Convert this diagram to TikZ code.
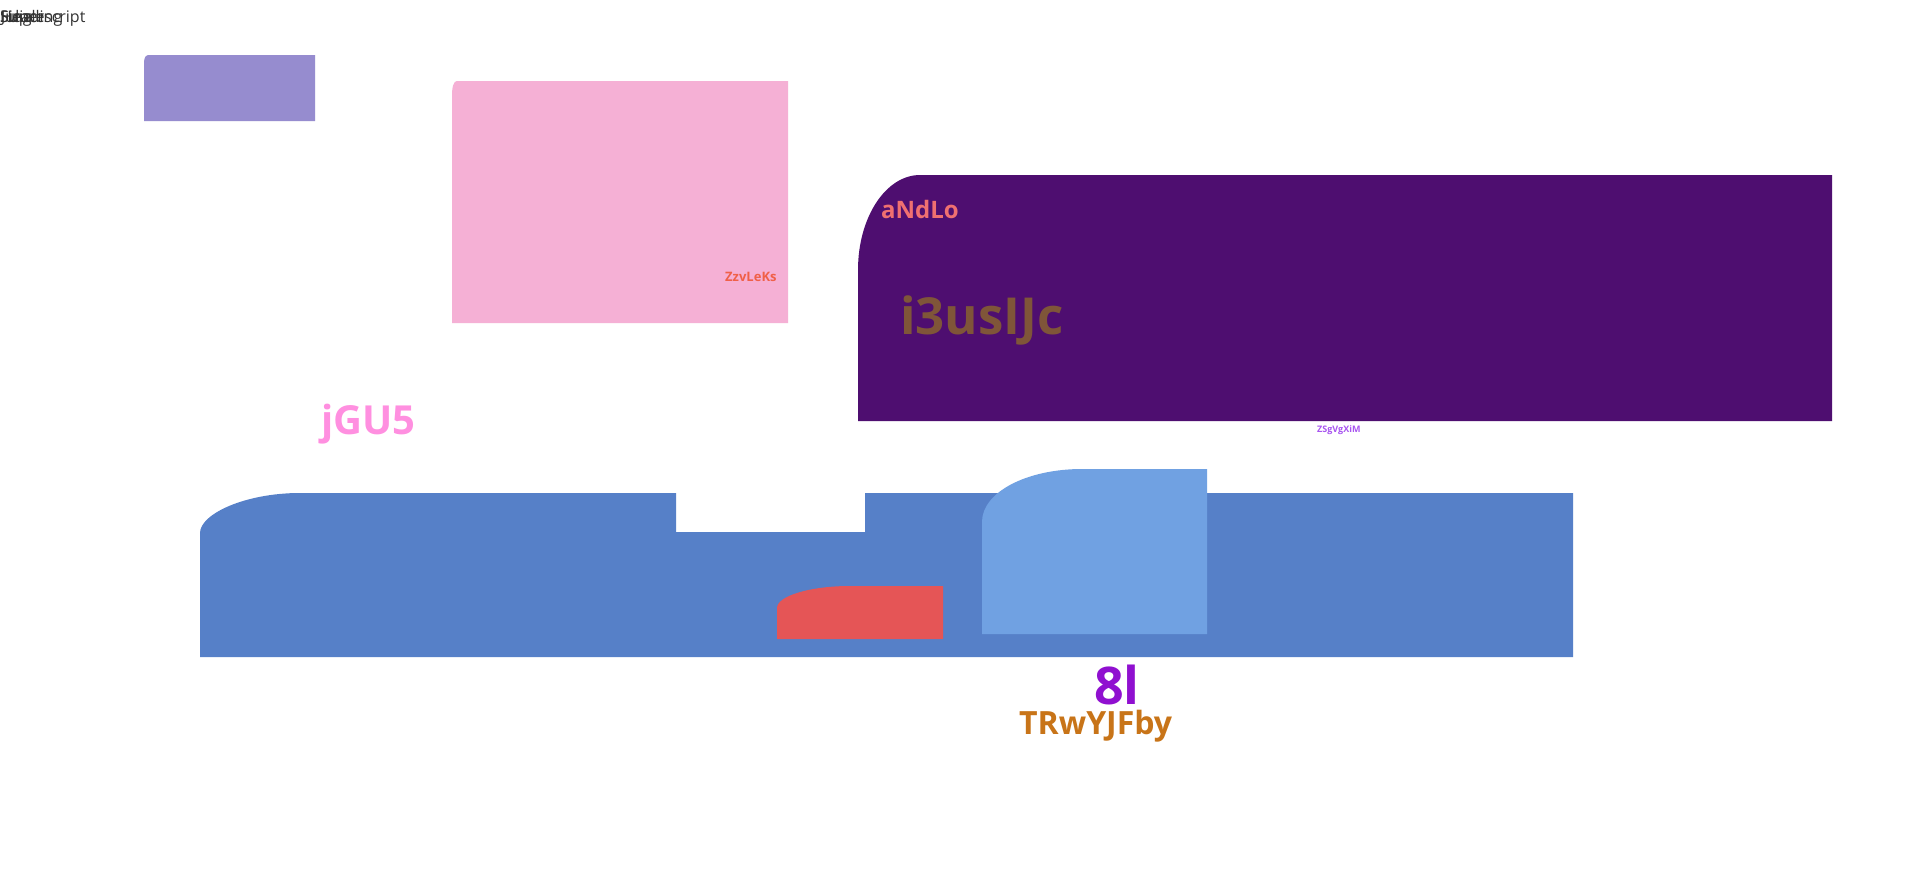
\documentclass[tikz,border=0pt]{standalone}
\usepackage{fontspec}
\setmainfont{Open Sans}
\definecolor{cSmall}{HTML}{968CCF}
\definecolor{cPink}{HTML}{F5B0D5}
\definecolor{cDark}{HTML}{4E0E70}
\definecolor{cSalmon}{HTML}{F07070}
\definecolor{cBrown}{HTML}{7F5539}
\definecolor{cBlue}{HTML}{5680C8}
\definecolor{cLight}{HTML}{70A1E2}
\definecolor{cRed}{HTML}{E55556}
\definecolor{cJ}{HTML}{FF8FE0}
\definecolor{cEight}{HTML}{9010D0}
\definecolor{cOrange}{HTML}{C87418}
\definecolor{cZz}{HTML}{F06048}
\definecolor{cZs}{HTML}{A855F0}
\definecolor{cGray}{HTML}{333333}
\tikzset{
  lbl/.style={inner sep=0pt, anchor=base west, font=\bfseries},
  tiny/.style={inner sep=0pt, anchor=base west, text=cGray}
}
\begin{document}
\begin{tikzpicture}[x=1pt,y=-1pt]
\useasboundingbox[fill=white] (0,0) rectangle (1920,870);
% shapes
\fill[cSmall] (144,121) -- (144,63) .. controls (144,57) and (146,55) .. (149,55) -- (315,55) -- (315,121) -- cycle;
\fill[cPink] (452,323) -- (452,96) .. controls (452,87) and (453.5,81) .. (457,81) -- (788,81) -- (788,323) -- cycle;
\fill[cDark] (858,421) -- (858,270) .. controls (858,217) and (886,175) .. (920,175) -- (1832,175) -- (1832,421) -- cycle;
\fill[cBlue] (200,657) -- (200,533) .. controls (200,514) and (245,493) .. (300,493) -- (676,493) -- (676,532) -- (865,532) -- (865,493) -- (1573,493) -- (1573,657) -- cycle;
\fill[cRed] (777,639) -- (777,608) .. controls (777,596) and (810,586) .. (850,586) -- (943,586) -- (943,639) -- cycle;
\fill[cLight] (982,634) -- (982,522) .. controls (982,492) and (1027,469) .. (1082,469) -- (1207,469) -- (1207,634) -- cycle;
% texts
\node[tiny, font=\fontsize{16}{18}\selectfont] (t1) at (0,22) {Superscript};
\node[tiny, font=\fontsize{16}{18}\selectfont] (t2) at (0,22) {Single};
\node[tiny, font=\fontsize{16}{18}\selectfont] (t3) at (0,22) {Heading};
\node[tiny, font=\fontsize{16}{18}\selectfont] (t4) at (1,22) {Julia};
\node[lbl, text=cZz, font=\bfseries\fontsize{13}{15}\selectfont] (zz) at (725,281) {ZzvLeKs};
\node[lbl, text=cSalmon, font=\bfseries\fontsize{24}{27}\selectfont] (an) at (881,218) {aNdLo};
\node[lbl, text=cBrown, font=\bfseries\fontsize{51}{56}\selectfont] (i3) at (900,334) {i3usIJc};
\node[lbl, text=cZs, font=\bfseries\fontsize{9}{11}\selectfont] (zs) at (1317,432) {ZSgVgXiM};
\node[lbl, text=cJ, font=\bfseries\fontsize{40}{44}\selectfont] (jg) at (321,434) {jGU5};
\node[lbl, text=cEight, font=\bfseries\fontsize{52}{56}\selectfont] (el) at (1094,704) {8l};
\node[lbl, text=cOrange, font=\bfseries\fontsize{32}{35}\selectfont] (tr) at (1019,734) {TRwYJFby};
\end{tikzpicture}
\end{document}
